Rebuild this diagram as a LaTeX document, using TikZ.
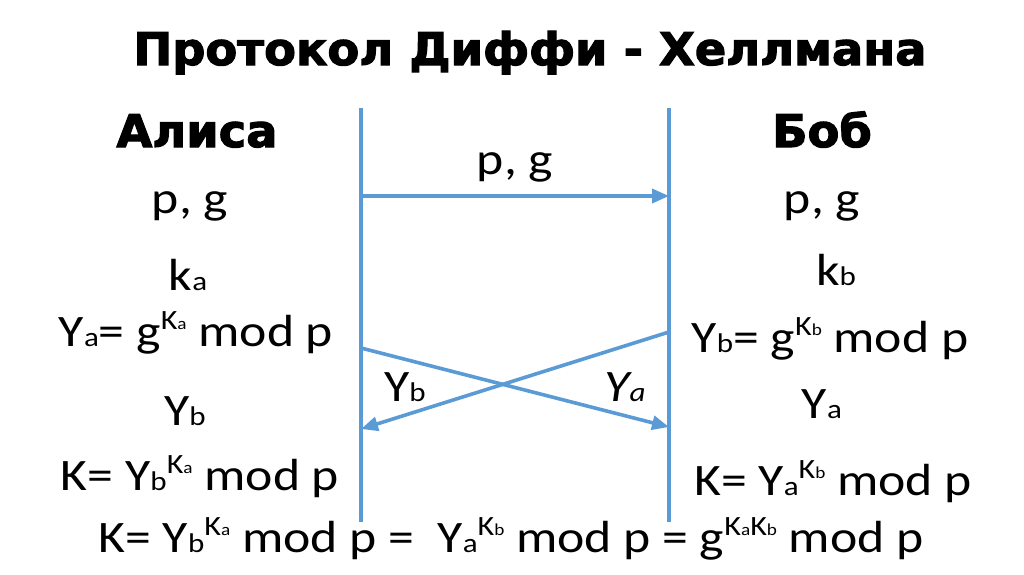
\documentclass[tikz,border=0pt]{standalone}
\usepackage{fontspec}
\setmainfont{Carlito}[FakeStretch=1.15]
\newfontfamily\heavyfont{DejaVu Sans}[BoldFeatures={FakeBold=2.5}, FakeStretch=1.03]
\usetikzlibrary{arrows.meta}
\definecolor{lineblue}{RGB}{91,155,213}
\newcommand\sbs[1]{\scalebox{0.6}{#1}}
\newcommand\sps[1]{\raisebox{0.36em}{\scalebox{0.62}{#1}}}
\begin{document}
\begin{tikzpicture}[x=1pt,y=-1pt,
  txt/.style={anchor=base,inner sep=0pt,font=\fontsize{45}{50}\selectfont},
  head/.style={anchor=base,inner sep=0pt,font=\heavyfont\bfseries\fontsize{45}{50}\selectfont},
  life/.style={draw=lineblue,line width=3.6pt},
  msg/.style={draw=lineblue,line width=3.6pt,-{Triangle[length=17pt,width=14pt]}}]
\useasboundingbox (0,0) rectangle (1024,574);
% title and headers
\node[head] (title) at (530,65) {Протокол Диффи - Хеллмана};
\node[head] (alice) at (197,147) {Алиса};
\node[head] (bob) at (822,147) {Боб};
% lifelines
\coordinate (LT) at (361,108);
\coordinate (LB) at (361,522);
\coordinate (RT) at (669,108);
\coordinate (RB) at (669,522);
\draw[life] (LT) -- (LB);
\draw[life] (RT) -- (RB);
% messages
\coordinate (pgL) at (361,196);
\coordinate (pgR) at (669,196);
\draw[msg] (pgL) -- (pgR);
\node[txt] (pgmsg) at (515,174) {p, g};
\coordinate (yaL) at (361,348);
\coordinate (yaR) at (669,427);
\draw[msg] (yaL) -- (yaR);
\coordinate (ybR) at (669,332);
\coordinate (ybL) at (361,429);
\draw[msg] (ybR) -- (ybL);
\node[txt] (ybmsg) at (405,401) {Y\sbs{b}};
\node[txt,font=\itshape\fontsize{45}{50}\selectfont] (yamsg) at (625,401) {Y\sbs{a}};
% Alice column
\node[txt] (apg) at (190,213) {p, g};
\node[txt] (aka) at (188,290) {k\sbs{a}};
\node[txt] (aya) at (196,346) {Y\sbs{a}= g\sps{K\sbs{a}} mod p};
\node[txt] (ayb) at (185,425) {Y\sbs{b}};
\node[txt] (ak) at (200,490) {K= Y\sbs{b}\sps{K\sbs{a}} mod p};
% Bob column
\node[txt] (bpg) at (822,213) {p, g};
\node[txt] (bkb) at (836,285) {k\sbs{b}};
\node[txt] (byb) at (830,352) {Y\sbs{b}= g\sps{K\sbs{b}} mod p};
\node[txt] (bya) at (822,418) {Y\sbs{a}};
\node[txt] (bk) at (833,495) {K= Y\sbs{a}\sps{K\sbs{b}} mod p};
% shared key
\node[txt] (shared) at (511,552) {K= Y\sbs{b}\sps{K\sbs{a}} mod p =\ \ Y\sbs{a}\sps{K\sbs{b}} mod p = g\sps{K\sbs{a}K\sbs{b}} mod p};
\end{tikzpicture}
\end{document}
